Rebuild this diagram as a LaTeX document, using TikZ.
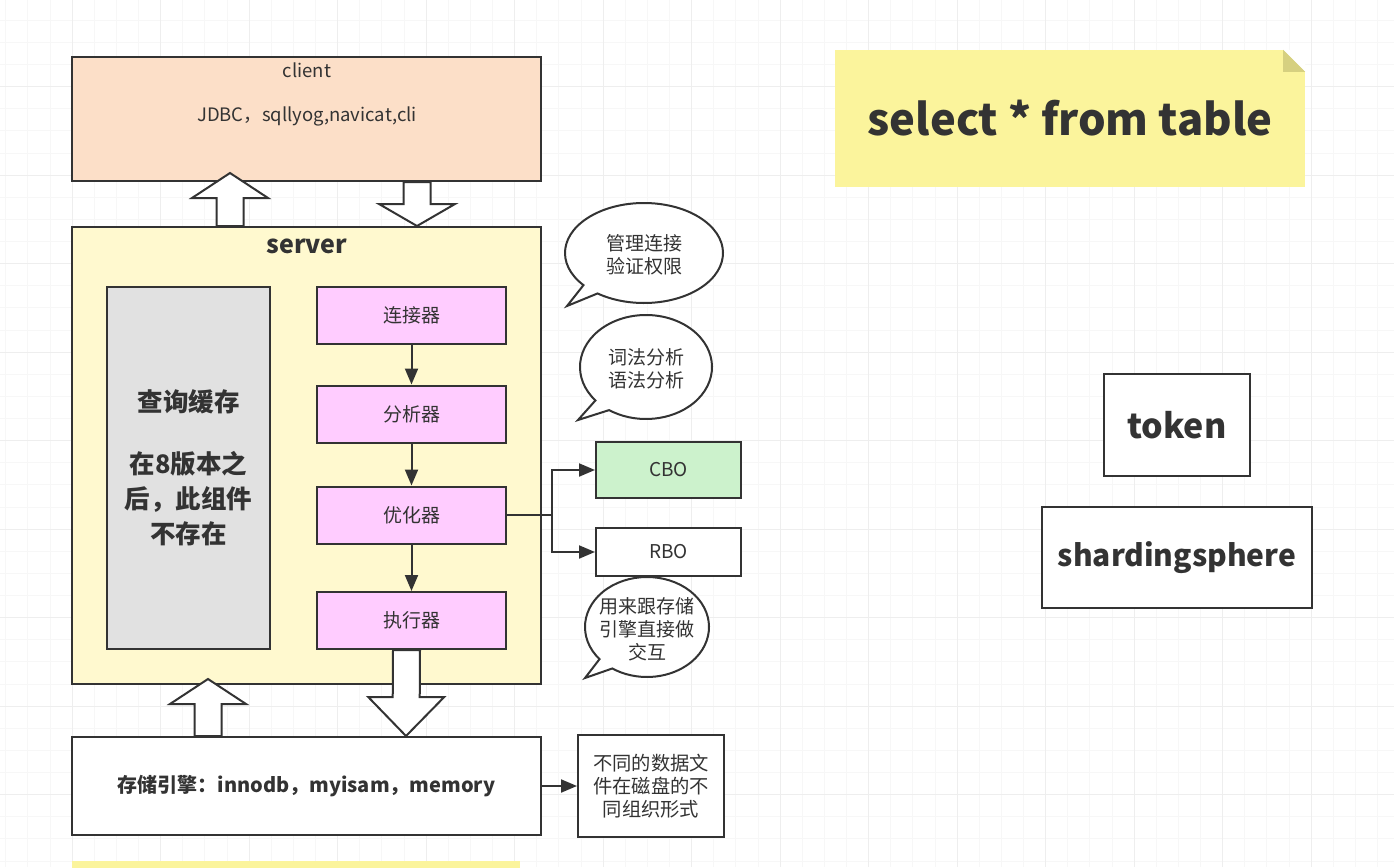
\documentclass[tikz,border=0pt]{standalone}
\usepackage{fontspec}
\setmainfont{Noto Sans CJK SC}
\usetikzlibrary{arrows.meta,calc,positioning}

\definecolor{clientc}{HTML}{FCDFC8}
\definecolor{serverc}{HTML}{FFF9CF}
\definecolor{cachec}{HTML}{E1E1E1}
\definecolor{modc}{HTML}{FFCCFF}
\definecolor{cboc}{HTML}{CCF2CC}
\definecolor{notec}{HTML}{FBF49C}
\definecolor{foldc}{HTML}{D6D080}
\definecolor{linec}{HTML}{333333}
\definecolor{txtc}{HTML}{333333}

\newcommand{\fsz}[2]{\fontsize{#1}{#2}\selectfont}
% hollow block arrow from #1 (base) to #2 (tip), head length #3
\newcommand{\blockarrow}[3]{%
  \coordinate (hb) at ($(#2)!#3pt!(#1)$);
  \filldraw[blk] ($(#1)+(-13.5,0)$) -- ($(hb)+(-13.5,0)$) -- ($(hb)+(-38,0)$) -- (#2)
    -- ($(hb)+(38,0)$) -- ($(hb)+(13.5,0)$) -- ($(#1)+(13.5,0)$) -- cycle;}
% speech bubble round point #1, radii #2 #3, tail between angles #4 #5, tip #6
\newcommand{\bubble}[6]{%
  \filldraw[bub] ($(#1)+(#4:#2 and #3)$) -- (#6) -- ($(#1)+(#5:#2 and #3)$)
    arc[start angle=#5, end angle=#4+360, x radius=#2, y radius=#3] -- cycle;}

\begin{document}
\begin{tikzpicture}[x=1pt,y=-1pt,
    box/.style={draw=linec,line width=2pt,inner sep=0pt,text=txtc,align=center},
    modbox/.style={box,fill=modc,minimum width=189pt,minimum height=57pt,font=\fsz{19}{23}},
    optbox/.style={box,minimum width=145pt,font=\fsz{19}{23}},
    bigtxt/.style={box,fill=white,font=\bfseries\fsz{34}{40}},
    link/.style={draw=linec,line width=2pt,-{Triangle[length=16pt,width=13pt]}},
    blk/.style={fill=white,draw=linec,line width=2pt,line join=miter},
    bub/.style={fill=white,draw=linec,line width=2pt},
    bubtxt/.style={text=txtc,align=center,font=\fsz{19}{23}},
    minorgrid/.style={draw=gray!6,line width=0.6pt},
    majorgrid/.style={draw=gray!13,line width=1pt}]

  \useasboundingbox (0,0) rectangle (1394,867);
  \fill[white] (0,0) rectangle (1394,867);
  % background grid
  \foreach \i in {-4,...,60}{
    \draw[minorgrid] (72+\i*22.125,0) -- (72+\i*22.125,867);}
  \foreach \i in {0,...,40}{
    \draw[minorgrid] (0,-2+\i*22.125) -- (1394,-2+\i*22.125);}
  \foreach \i in {-1,...,15}{
    \draw[majorgrid] (72+\i*88.5,0) -- (72+\i*88.5,867);}
  \foreach \i in {0,...,10}{
    \draw[majorgrid] (0,-2+\i*88.5) -- (1394,-2+\i*88.5);}

  % client and server
  \node[box,fill=clientc,minimum width=469pt,minimum height=124pt] (client) at (306.5,119) {};
  \node[text=txtc,font=\fsz{18.5}{22}] (clientname) at (307,70) {client};
  \node[text=txtc,font=\fsz{18.5}{22}] (clienttools) at (307,116) {JDBC，sqllyog,navicat,cli};
  \node[box,fill=serverc,minimum width=469pt,minimum height=457pt] (server) at (306.5,455.5) {};
  \node[text=txtc,font=\bfseries\fsz{25}{28}] (servername) at (307,246) {server};

  \node[box,fill=cachec,minimum width=163pt,minimum height=362pt,font=\bfseries\fsz{25.5}{35}] (cache) at (188.5,468)
    {查询缓存\\[27pt]在8版本之\\后，此组件\\不存在};

  \node[modbox] (conn) at (411.5,315.5) {连接器};
  \node[modbox] (ana) at (411.5,414) {分析器};
  \node[modbox] (opt) at (411.5,515) {优化器};
  \node[modbox] (exe) at (411.5,620.5) {执行器};
  \foreach \a/\b in {conn/ana,ana/opt,opt/exe}
    \draw[link] (\a) -- (\b);

  \node[optbox,fill=cboc,minimum height=56pt] (cbo) at (668.5,470) {CBO};
  \node[optbox,fill=white,minimum height=48pt] (rbo) at (668.5,552) {RBO};
  \coordinate (fork) at ($(opt.east)+(45,0)$);
  \draw[draw=linec,line width=2pt] (opt.east) -- (fork);
  \draw[link] (fork) |- (cbo);
  \draw[link] (fork) |- (rbo);

  % storage
  \node[box,fill=white,minimum width=469pt,minimum height=98pt,font=\bfseries\fsz{20}{24}] (store) at (306.5,786)
    {存储引擎：innodb，myisam，memory};
  \node[box,fill=white,minimum width=146pt,minimum height=102pt,font=\fsz{19.3}{23}] (files) at (651,786)
    {不同的数据文\\件在磁盘的不\\同组织形式};
  \draw[link] (store) -- (files);
  \fill[notec] (72,861) rectangle (520,870);

  % block arrows
  \coordinate (up1a) at ($(server.north west)+(159,0)$);
  \coordinate (up1b) at ($(client.south west)+(159,-9)$);
  \coordinate (dn1a) at ($(client.south west)+(346,0)$);
  \coordinate (dn1b) at ($(server.north west)+(346,0)$);
  \coordinate (up2a) at ($(store.north west)+(137,0)$);
  \coordinate (up2b) at ($(server.south west)+(137,-6)$);
  \coordinate (dn2a) at ($(exe.south)+(-5,0)$);
  \coordinate (dn2b) at ($(store.north)+(99.5,0)$);
  \blockarrow{up1a}{up1b}{25}
  \blockarrow{dn1a}{dn1b}{22}
  \blockarrow{up2a}{up2b}{25}
  \blockarrow{dn2a}{dn2b}{39}

  % speech bubbles
  \coordinate (connc) at (644,253);
  \coordinate (anac) at (646,367);
  \coordinate (exec) at (647,627);
  \bubble{connc}{79}{50}{126}{140}{567,306}
  \bubble{anac}{66}{52}{124}{140}{578,420}
  \bubble{exec}{62}{50}{124}{140}{585,678}
  \node[bubtxt] (connnote) at ($(connc)+(0,2)$) {管理连接\\验证权限};
  \node[bubtxt] (ananote) at ($(anac)+(0,2)$) {词法分析\\语法分析};
  \node[bubtxt] (exenote) at ($(exec)+(0,2)$) {用来跟存储\\引擎直接做\\交互};

  % right side
  \node[fill=notec,minimum width=470pt,minimum height=137pt,inner sep=0pt] (sql) at (1070,118.5) {};
  \fill[white] (sql.north east) -- ++(-22,0) -- ++(22,22) -- cycle;
  \fill[foldc] ($(sql.north east)+(-22,0)$) -- ++(22,22) -- ++(-22,0) -- cycle;
  \node[text=txtc,font=\bfseries\fsz{43.5}{48}] (sqltxt) at (sql) {select * from table};

  \node[bigtxt,minimum width=146pt,minimum height=102pt] (token) at (1177,425) {token};
  \node[bigtxt,minimum width=270pt,minimum height=101pt,font=\bfseries\fsz{30}{34}] (shard) at (1177,557.5) {shardingsphere};
\end{tikzpicture}
\end{document}
